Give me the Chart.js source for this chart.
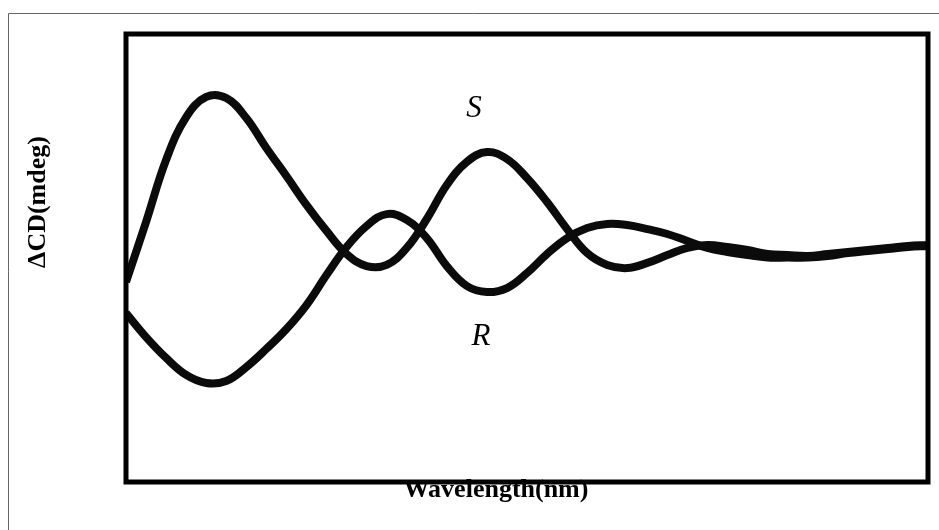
<!DOCTYPE html>
<html>
<head>
<meta charset="utf-8">
<title>CD spectra</title>
<script src="https://cdn.jsdelivr.net/npm/chart.js@4.4.1/dist/chart.umd.min.js"></script>
<style>
    html, body { margin: 0; padding: 0; background: #fff; }
    #wrap { width: 939px; height: 530px; }
</style>
</head>
<body>
<div id="wrap"><canvas id="cd"></canvas></div>
<script>
    // wavelength grid (nm), no ticks shown in the original
    var wavelength = [200, 205, 210, 215, 220, 225, 230, 235, 240, 245,
                      250, 255, 260, 265, 270, 275, 280, 285, 290, 295,
                      300, 305, 310, 315, 320, 325, 330, 335, 340, 345,
                      350, 355, 360, 365, 370, 375, 380, 385, 390, 395, 400];

    // delta CD (mdeg)
    var cdS = [-1.07, 1.61, 4.38, 6.29, 7.19, 7.14, 6.25, 4.91, 3.66, 2.37,
               1.21, 0.18, -0.36, -0.31, 0.45, 1.74, 3.26, 4.29, 4.73, 4.42,
               3.57, 2.50, 1.29, 0.22, -0.31, -0.45, -0.22, 0.13, 0.45, 0.58,
               0.49, 0.36, 0.18, 0.13, 0.09, 0.18, 0.27, 0.36, 0.45, 0.54, 0.58];

    var cdR = [-2.46, -3.53, -4.46, -5.22, -5.58, -5.49, -4.87, -4.06, -3.17, -2.10,
               -0.76, 0.49, 1.43, 1.96, 1.70, 0.89, -0.36, -1.25, -1.52, -1.34,
               -0.67, 0.18, 0.89, 1.34, 1.52, 1.47, 1.29, 1.07, 0.76, 0.45,
               0.27, 0.13, 0.02, 0.02, 0.02, 0.09, 0.22, 0.31, 0.40, 0.49, 0.54];

    var seriesNames = ['S', 'R'];
    // where the S / R labels sit, in data units
    var labelWavelength = [286.8, 288.5];
    var labelCD = [6.65, -3.53];
    var axisTitles = ['Wavelength(nm)', '\u0394CD(mdeg)'];

    var frame = {
        id: 'frame',
        afterDatasetsDraw: function (chart) {
            var ctx = chart.ctx;
            var a = chart.chartArea;
            ctx.save();

            // thin outer border (only top and left visible)
            ctx.strokeStyle = '#666';
            ctx.lineWidth = 1;
            ctx.beginPath();
            ctx.moveTo(8.5, 530);
            ctx.lineTo(8.5, 13.5);
            ctx.lineTo(939, 13.5);
            ctx.stroke();

            // titles
            ctx.fillStyle = '#000';
            ctx.font = 'bold 26px "Liberation Serif", "Times New Roman", serif';
            ctx.textAlign = 'center';
            ctx.textBaseline = 'alphabetic';
            ctx.fillText(axisTitles[0], 496, 497);

            ctx.save();
            ctx.translate(38, 202);
            ctx.rotate(-Math.PI / 2);
            ctx.textBaseline = 'middle';
            ctx.fillText(axisTitles[1], 0, 0);
            ctx.restore();

            // plot frame
            ctx.strokeStyle = '#000';
            ctx.lineWidth = 5;
            ctx.strokeRect(a.left, a.top, a.right - a.left, a.bottom - a.top);

            // curve labels
            var xs = chart.scales.x, ys = chart.scales.y;
            ctx.font = 'italic 31px "Liberation Serif", "Times New Roman", serif';
            ctx.textBaseline = 'middle';
            for (var i = 0; i < seriesNames.length; i++) {
                ctx.fillText(seriesNames[i], xs.getPixelForValue(labelWavelength[i]), ys.getPixelForValue(labelCD[i]));
            }

            ctx.restore();
        }
    };

    var chartdata = {
        labels: wavelength,
        datasets: [
            {
                label: seriesNames[0],
                data: cdS,
                borderColor: '#0b0b0b',
                borderWidth: 8,
                pointRadius: 0,
                tension: 0.4,
                fill: false
            },
            {
                label: seriesNames[1],
                data: cdR,
                borderColor: '#0b0b0b',
                borderWidth: 8,
                pointRadius: 0,
                tension: 0.4,
                fill: false
            }
        ]
    };

    var cdChart = new Chart(document.getElementById('cd'), {
        type: 'line',
        data: chartdata,
        options: {
            responsive: true,
            maintainAspectRatio: false,
            animation: false,
            layout: { padding: { left: 126, top: 34, right: 11, bottom: 48 } },
            plugins: {
                legend: { display: false },
                tooltip: { enabled: false }
            },
            scales: {
                x: { type: 'linear', min: 200, max: 400, display: false },
                y: { min: -10, max: 10, display: false }
            }
        },
        plugins: [frame]
    });
</script>
</body>
</html>
